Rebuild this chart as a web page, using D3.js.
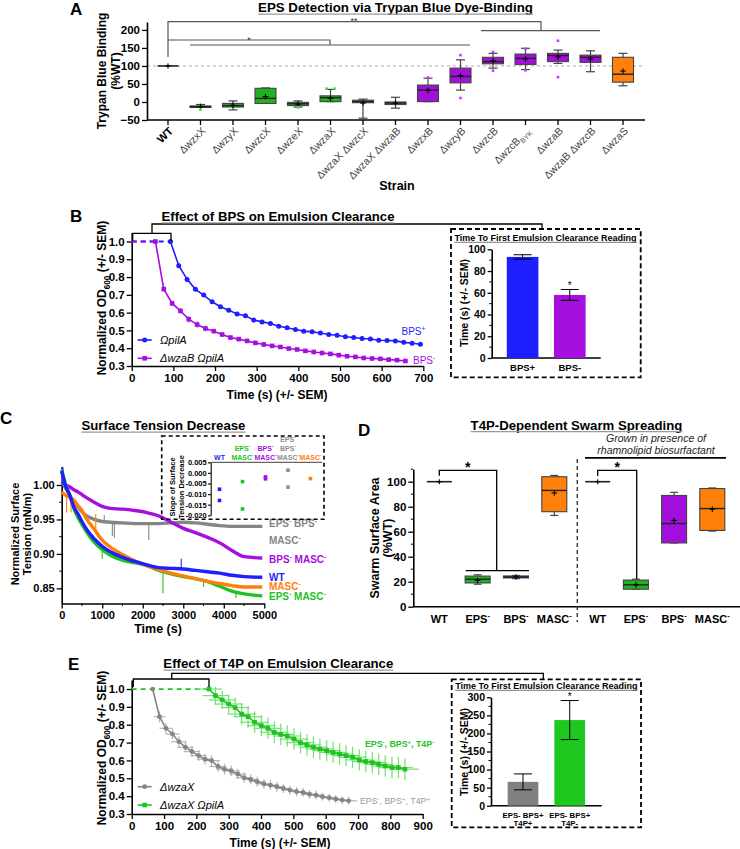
<!DOCTYPE html>
<html><head><meta charset="utf-8">
<script src="https://cdn.jsdelivr.net/npm/d3@7"></script>
<style>
body{margin:0;background:#fff}
svg{display:block;font-family:"Liberation Sans",Arial,Helvetica,sans-serif}
</style></head><body>
<svg id="c" width="740" height="849"></svg>
<script>
// ================= DATA =================
// Panel A – Trypan blue binding (%WT), box stats per strain
const aStrains = ["WT","ΔwzxX","ΔwzyX","ΔwzcX","ΔwzeX","ΔwzaX","ΔwzaX ΔwzcX","ΔwzaX ΔwzaB","ΔwzxB","ΔwzyB","ΔwzcB","ΔwzcB_{BYK}","ΔwzaB","ΔwzaB ΔwzcB","ΔwzaS"];
const aGroup = ["wt","eps","eps","eps","eps","eps","eps","eps","bps","bps","bps","bps","bps","bps","masc"];
const aMin  = [100,-15,-22,-4,-14, 1,-45,-17, 1, 33, 94, 90,107, 84, 45];
const aQ1   = [100,-14,-14,-4,-10, 1, -2, -7, 1, 53,106,104,112,110, 55];
const aMed  = [100,-13,-10,10, -5,12,  1, -3,33, 71,112,121,129,124, 77];
const aQ3   = [100,-11, -4,38, -1,17,  5,  0,47, 94,124,133,135,130,124];
const aMax  = [100, -7,  3,39,  3,35,  8, 13,66,117,135,149,144,142,135];
const aMean = [100,-12.5,-9,15,-6,10,-3,-3,32,73,114,120,125,119,86];
const aDots = [[],[-21],[],[],[-15],[37,37],[],[],[68],[130,11],[139,87],[148,88],[170,69],[],[]];
const aYTicks = [-50,0,50,100,150,200];

// Panel B – emulsion clearance (BPS)
const bTimeBlue = [93,113,133,153,173,193,213,233,253,273,293,313,333,353,373,393,413,433,453,473,493,513,533,553,573,593,613,633,653,673,693];
const bBlue = [1.0,0.864,0.787,0.731,0.699,0.661,0.633,0.614,0.592,0.582,0.558,0.548,0.539,0.524,0.515,0.505,0.496,0.492,0.486,0.477,0.473,0.464,0.460,0.455,0.452,0.445,0.443,0.441,0.433,0.428,0.422];
const bBlueSem = [0,0.012,0.010,0.010,0.010,0.010,0.010,0.010,0.010,0.010,0.012,0.012,0.012,0.012,0.012,0.012,0.012,0.012,0.012,0.012,0.012,0.012,0.012,0.012,0.012,0.012,0.012,0.012,0.012,0.012,0.012];
const bTimePurple = [57,77,97,117,137,157,177,197,217,237,257,277,297,317,337,357,377,397,417,437,457,477,497,517,537,557,577,597,617,637,657];
const bPurple = [1.0,0.732,0.652,0.610,0.563,0.533,0.511,0.496,0.477,0.460,0.451,0.441,0.430,0.421,0.413,0.407,0.398,0.393,0.385,0.379,0.373,0.368,0.361,0.355,0.351,0.345,0.342,0.340,0.336,0.333,0.328];
const bPurpleSem = [0,0.012,0.015,0.015,0.02,0.02,0.015,0.012,0.012,0.012,0.012,0.012,0.012,0.012,0.012,0.010,0.010,0.010,0.010,0.010,0.010,0.010,0.010,0.010,0.010,0.010,0.010,0.010,0.010,0.010,0.010];
const bInsetCats = ["BPS+","BPS-"];
const bInsetVals = [93,58];
const bInsetSem = [2,5];

// Panel C – surface tension
const cTime = [0,100,200,300,400,500,600,800,1000,1200,1500,1800,2100,2400,2700,3000,3300,3600,3900,4200,4500,4950];
const cWT     = [1.020,0.998,0.985,0.968,0.958,0.947,0.937,0.922,0.911,0.903,0.895,0.889,0.884,0.880,0.879,0.878,0.876,0.874,0.872,0.869,0.867,0.866];
const cEM     = [1.022,1.000,0.985,0.966,0.953,0.943,0.933,0.917,0.906,0.898,0.891,0.887,0.883,0.876,0.871,0.867,0.864,0.860,0.853,0.846,0.842,0.839];
const cMASC   = [0.990,0.985,0.982,0.978,0.970,0.963,0.952,0.936,0.920,0.910,0.899,0.890,0.883,0.877,0.872,0.868,0.864,0.860,0.857,0.854,0.852,0.852];
const cEBM    = [1.005,0.995,0.985,0.976,0.968,0.961,0.956,0.950,0.947,0.946,0.945,0.944,0.944,0.944,0.945,0.946,0.945,0.943,0.941,0.940,0.940,0.940];
const cBM     = [1.005,1.000,0.997,0.993,0.990,0.986,0.982,0.975,0.969,0.966,0.965,0.963,0.960,0.955,0.946,0.937,0.931,0.924,0.916,0.905,0.896,0.894];
// spikes: [series, time, from, to]
const cSpikes = [["WT",2950,0.878,0.893],["MASC",840,0.930,0.958],["MASC",230,0.978,0.960],["MASC",120,0.985,0.960],
  ["EBM",1250,0.946,0.926],["EBM",1300,0.946,0.923],["EBM",2150,0.944,0.920],["EBM",1050,0.947,0.956],
  ["EM",2500,0.875,0.843],["EM",1000,0.906,0.893],["EM",4300,0.846,0.836],["EM",3500,0.862,0.852],["WT",30,1.0,1.026],["EM",20,1.0,1.024]];
const cInsetCats = ["WT","EPS^{-}|MASC^{-}","BPS^{-}|MASC^{-}","EPS^{-}|BPS^{-}|MASC^{-}","MASC^{-}"];
const cInsetSlopes = [[-0.0077,-0.0130],[-0.0041,-0.0170],[-0.0019,-0.0028],[0.0013,-0.0067],[-0.0027]];

// Panel D – swarm spreading (%WT)
const dCats = ["WT","EPS^{-}","BPS^{-}","MASC^{-}"];
const dGroup = ["wt","eps","bps","masc"];
const dMinNo = [100,18,22.5,73],  dQ1No = [100,19,23,76],  dMedNo = [100,22,23.8,93],  dQ3No = [100,24.5,24.6,104], dMaxNo = [100,25.5,25,105], dMeanNo = [100,21,23.8,91];
const dMinRh = [100,14,51,60.5],  dQ1Rh = [100,14,51,61],  dMedRh = [100,17.5,66.5,78.5], dQ3Rh = [100,21.3,89,94.5], dMaxRh = [100,22,91.5,95], dMeanRh = [100,17.5,69,78];

// Panel E – emulsion clearance (T4P)
const eTimeGray = [65,86,106,126,146,166,186,207,227,247,267,287,308,328,348,368,388,409,429,449,469,489,510,530,550,570,590,611,631,651,671];
const eGray = [1.0,0.845,0.780,0.748,0.705,0.674,0.650,0.627,0.607,0.599,0.566,0.551,0.541,0.524,0.503,0.494,0.481,0.468,0.462,0.453,0.443,0.434,0.425,0.421,0.410,0.406,0.397,0.391,0.384,0.378,0.374];
const eGraySemY = [0,0.03,0.03,0.03,0.03,0.03,0.03,0.03,0.03,0.03,0.03,0.03,0.03,0.03,0.028,0.028,0.028,0.028,0.028,0.028,0.025,0.025,0.025,0.025,0.025,0.025,0.022,0.022,0.022,0.022,0.022];
const eGraySemX = [0,18,20,22,24,25,25,25,26,26,26,26,26,26,26,26,26,26,26,26,26,26,26,26,26,26,26,26,26,26,26];
const eTimeGreen = [239,259,280,300,320,340,360,380,401,421,441,461,481,502,522,542,562,582,603,623,643,663,683,704,724,744,764,784,805,825,845];
const eGreen = [1.0,0.963,0.939,0.916,0.896,0.860,0.845,0.814,0.795,0.780,0.758,0.746,0.737,0.720,0.700,0.687,0.674,0.664,0.655,0.645,0.636,0.627,0.618,0.603,0.594,0.588,0.578,0.569,0.560,0.560,0.551];
const eGreenSemY = [0,0.05,0.05,0.055,0.055,0.06,0.06,0.06,0.06,0.06,0.06,0.06,0.06,0.06,0.06,0.06,0.06,0.06,0.06,0.06,0.06,0.06,0.06,0.06,0.06,0.06,0.06,0.06,0.06,0.06,0.06];
const eGreenSemX = [40,40,42,44,44,44,44,44,44,44,44,44,44,44,44,44,44,44,44,44,44,44,44,44,44,44,44,44,44,44,44];
const eInsetCats = ["EPS- BPS+|T4P+","EPS- BPS+|T4P-"];
const eInsetVals = [66,237];
const eInsetSem = [22,54];

// ================= DRAWING =================
const F = '"Liberation Sans", Arial, Helvetica, sans-serif';
const COL = {blue:"#1e1eff", purple:"#a50fe0", green:"#1fc21f", orange:"#ff7f0a", gray:"#858585", wt:"#000"};
const BOXCOL = {eps:"#1fb41f", bps:"#a20fdc", masc:"#ff800a", wt:"#000"};
const DOTCOL = {eps:"#3fe03f", bps:"#c040ff", masc:"#ffa040", wt:"#000"};
const svg = d3.select("#c");

function rich(sel, str, size){
  const parts = str.split(/(\^\{[^}]*\}|_\{[^}]*\})/).filter(s=>s.length);
  let shift = 0;
  parts.forEach(p=>{
    let target=0, content=p, fs=null;
    if(p.startsWith("^{")){target=-0.38*size;content=p.slice(2,-1);fs=size*0.68;}
    else if(p.startsWith("_{")){target=0.28*size;content=p.slice(2,-1);fs=size*0.68;}
    const t = sel.append("tspan").text(content);
    if(target!==shift){t.attr("dy",target-shift);shift=target;}
    if(fs) t.attr("font-size",fs);
  });
}
function addText(parent,x,y,str,o={}){
  const size=o.size||12;
  const t=parent.append("text").attr("x",x).attr("y",y)
    .attr("font-size",size).attr("font-weight",o.weight||"bold")
    .attr("text-anchor",o.anchor||"start").attr("fill",o.fill||"#000")
    .attr("font-family",F);
  if(o.italic) t.attr("font-style","italic");
  if(o.rotate!==undefined) t.attr("transform",`rotate(${o.rotate},${x},${y})`);
  if(o.dy) t.attr("dy",o.dy);
  rich(t,str,size);
  return t;
}
function title(x,y,str,size,uc){
  const t=addText(svg,x,y,str,{size:size,anchor:"middle"});
  const w=t.node().getComputedTextLength();
  svg.append("line").attr("x1",x-w/2).attr("x2",x+w/2).attr("y1",y+2.2).attr("y2",y+2.2)
    .attr("stroke",uc||"#9a9a9a").attr("stroke-width",1.3);
}
function styleAxis(g,fs){
  g.attr("font-family",F);
  g.selectAll("path.domain").attr("stroke","#000").attr("stroke-width",1.6);
  g.selectAll(".tick line").attr("stroke","#000").attr("stroke-width",1.3);
  g.selectAll(".tick text").attr("font-family",F).attr("font-weight","bold").attr("font-size",fs).attr("fill","#000");
}
function minorTicks(g,scale,vals,x,len){
  g.selectAll(null).data(vals).join("line").attr("x1",x).attr("x2",x-len)
    .attr("y1",d=>scale(d)).attr("y2",d=>scale(d)).attr("stroke","#000").attr("stroke-width",1);
}
function line(g,x1,y1,x2,y2,c,w,dash){
  const l=g.append("line").attr("x1",x1).attr("y1",y1).attr("x2",x2).attr("y2",y2).attr("stroke",c||"#000").attr("stroke-width",w||1);
  if(dash) l.attr("stroke-dasharray",dash);
  return l;
}
function path(g,d,c,w,dash){
  const p=g.append("path").attr("d",d).attr("fill","none").attr("stroke",c||"#000").attr("stroke-width",w||1.2);
  if(dash) p.attr("stroke-dasharray",dash);
  return p;
}
function plus(g,x,y,s){ line(g,x-s,y,x+s,y,"#000",1.1); line(g,x,y-s,x,y+s,"#000",1.1); }
function boxes(g,xs,ys,mins,q1s,meds,q3s,maxs,means,groups,w,cap,dots){
  xs.forEach((x,i)=>{
    const grp=groups[i];
    if(mins[i]===maxs[i]){
      line(g,x-w/2,ys(meds[i]),x+w/2,ys(meds[i]),"#222",1.6);
      plus(g,x,ys(means[i]),2.5);
      return;
    }
    line(g,x,ys(maxs[i]),x,ys(q3s[i]),"#444",1.2);
    line(g,x,ys(q1s[i]),x,ys(mins[i]),"#444",1.2);
    line(g,x-cap/2,ys(maxs[i]),x+cap/2,ys(maxs[i]),"#444",1.2);
    line(g,x-cap/2,ys(mins[i]),x+cap/2,ys(mins[i]),"#444",1.2);
    g.append("rect").attr("x",x-w/2).attr("y",ys(q3s[i])).attr("width",w)
      .attr("height",Math.max(1.5,ys(q1s[i])-ys(q3s[i]))).attr("fill",BOXCOL[grp]).attr("stroke","#444").attr("stroke-width",1.1);
    line(g,x-w/2,ys(meds[i]),x+w/2,ys(meds[i]),"#222",1.4);
    plus(g,x,ys(means[i]),2.8);
    if(dots){
      const ds=dots[i];
      ds.forEach((v,j)=>{
        const same=ds.filter(u=>u===v).length>1;
        const dx=same?(j%2?4:-4):0;
        g.append("rect").attr("x",x+dx-1.3).attr("y",ys(v)-1.3).attr("width",2.6).attr("height",2.6).attr("fill",DOTCOL[grp]);
      });
    }
  });
}

// ---------- Panel letters ----------
[["A",70,14.5],["B",70,222],["C",0,424],["D",358,436],["E",68,670]].forEach(d=>{
  svg.append("text").attr("x",d[1]).attr("y",d[2]).attr("font-family",F).attr("font-weight","bold").attr("font-size",17).text(d[0]);
});

// =========== PANEL A ===========
(function(){
  const g=svg.append("g");
  const xA=d3.scalePoint().domain(aStrains).range([168,623]);
  const yA=d3.scaleLinear().domain([-50,222]).range([120,22]);
  title(395.5,12,"EPS Detection via Trypan Blue Dye-Binding",13.3);
  line(g,147,yA(100),645,yA(100),"#a0a0a0",0.9,"3,3");
  const ay=g.append("g").attr("transform","translate(147,0)")
    .call(d3.axisLeft(yA).tickValues(aYTicks).tickSize(5).tickSizeOuter(0).tickPadding(2));
  styleAxis(ay,11.5);
  line(g,147,120,645,120,"#000",1.6);
  aStrains.forEach(s=>line(g,xA(s),120,xA(s),125,"#000",1.3));
  aStrains.forEach((s,i)=>{
    const x=xA(s)+3, y=129;
    addText(g,x,y,s,{size:i===0?11:10.5,anchor:"end",rotate:-45,weight:i===0?"bold":"normal",fill:i===0?"#000":"#444",dy:"0.35em"});
  });
  addText(g,397,190,"Strain",{size:12.5,anchor:"middle"});
  addText(g,101.5,71,"Trypan Blue Binding",{size:12,anchor:"middle",rotate:-90,dy:"0.35em"});
  addText(g,115.5,71,"(%WT)",{size:12,anchor:"middle",rotate:-90,dy:"0.35em"});
  const xw=xA("WT");
  path(g,`M${xw},57V21.7H541V30.7M481,30.7H600`,"#555",1.2);
  path(g,`M${xw},40H330V45M190,45H470`,"#555",1.2);
  addText(g,354,24,"**",{size:9,anchor:"middle",weight:"normal",fill:"#333"});
  addText(g,249,43,"*",{size:9,anchor:"middle",weight:"normal",fill:"#333"});
  boxes(g,aStrains.map(s=>xA(s)),yA,aMin,aQ1,aMed,aQ3,aMax,aMean,aGroup,21,9,aDots);
})();

// =========== PANEL B ===========
(function(){
  const g=svg.append("g");
  const xB=d3.scaleLinear().domain([0,700]).range([131.7,423.3]);
  const yB=d3.scaleLinear().domain([0.3,1.05]).range([366,232.6]);
  title(278,221,"Effect of BPS on Emulsion Clearance",13.2,"#777");
  const ay=g.append("g").attr("transform","translate(131.7,0)")
    .call(d3.axisLeft(yB).tickValues(d3.range(0.3,1.01,0.1)).tickFormat(d3.format(".1f")).tickSize(5).tickSizeOuter(0).tickPadding(2));
  styleAxis(ay,11.5);
  const ax=g.append("g").attr("transform","translate(0,366)")
    .call(d3.axisBottom(xB).tickValues(d3.range(0,701,100)).tickSize(5).tickSizeOuter(0).tickPadding(3));
  styleAxis(ax,11.5);
  addText(g,277,399,"Time (s) (+/- SEM)",{size:12,anchor:"middle"});
  addText(g,102,298,"Normalized OD_{600} (+/- SEM)",{size:12,anchor:"middle",rotate:-90,dy:"0.35em"});
  line(g,xB(0),yB(1),xB(bTimeBlue[0]),yB(1),COL.blue,1.8,"5,4");
  line(g,xB(0),yB(1),xB(bTimePurple[0]),yB(1),COL.purple,1.8,"5,4");
  const ln=d3.line().x(d=>xB(d[0])).y(d=>yB(d[1]));
  [[bTimePurple,bPurple,bPurpleSem,COL.purple,"sq"],[bTimeBlue,bBlue,bBlueSem,COL.blue,"ci"]].forEach(([T,V,S,c,m])=>{
    const pts=T.map((t,i)=>[t,V[i]]);
    T.forEach((t,i)=>{
      if(S[i]>0){
        line(g,xB(t),yB(V[i]+S[i]),xB(t),yB(V[i]-S[i]),c,1.1).attr("opacity",0.6);
        line(g,xB(t-5),yB(V[i]),xB(t+5),yB(V[i]),c,1.1).attr("opacity",0.6);
      }
    });
    g.append("path").attr("d",ln(pts)).attr("fill","none").attr("stroke",c).attr("stroke-width",1.6);
    pts.forEach(p=>{
      if(m==="sq") g.append("rect").attr("x",xB(p[0])-2.3).attr("y",yB(p[1])-2.3).attr("width",4.6).attr("height",4.6).attr("fill",c);
      else g.append("circle").attr("cx",xB(p[0])).attr("cy",yB(p[1])).attr("r",2.5).attr("fill",c);
    });
  });
  addText(g,401.5,334.5,"BPS^{+}",{size:10,fill:COL.blue,weight:"normal"});
  addText(g,413,364,"BPS^{-}",{size:10,fill:COL.purple,weight:"normal"});
  line(g,137.7,340,151.7,340,COL.blue,1.6); g.append("circle").attr("cx",144.7).attr("cy",340).attr("r",2.5).attr("fill",COL.blue);
  addText(g,160,344,"ΩpilA",{size:11,italic:true,weight:"normal"});
  line(g,137.7,358.3,151.7,358.3,COL.purple,1.6); g.append("rect").attr("x",142.4).attr("y",356).attr("width",4.6).attr("height",4.6).attr("fill",COL.purple);
  addText(g,160,362.3,"ΔwzaB ΩpilA",{size:11,italic:true,weight:"normal"});
  path(g,"M132.7,241V233.3H171V241M152,233.3V224H542V229","#000",1.3);
  g.append("rect").attr("x",451).attr("y",229).attr("width",189.7).attr("height",148.3).attr("fill","none").attr("stroke","#000").attr("stroke-width",1.8).attr("stroke-dasharray","5,3");
  const tt=addText(g,545.5,240.5,"Time To First Emulsion Clearance Reading",{size:9,anchor:"middle"});
  const tw=tt.node().getComputedTextLength();
  line(g,545.5-tw/2,242.3,545.5+tw/2,242.3,"#777",1);
  const xi=d3.scaleBand().domain(bInsetCats).range([491.7,600.7]).paddingInner(0.33).paddingOuter(0.32);
  const yi=d3.scaleLinear().domain([0,100]).range([358,249.3]);
  const ayi=g.append("g").attr("transform","translate(491.7,0)")
    .call(d3.axisLeft(yi).tickValues(d3.range(0,101,20)).tickSize(4).tickSizeOuter(0).tickPadding(2));
  styleAxis(ayi,10.5);
  minorTicks(g,yi,d3.range(10,100,20),491.7,2.5);
  line(g,491.7,358,600.7,358,"#000",1.6);
  const bc=[COL.blue,COL.purple];
  bInsetCats.forEach((c,i)=>{
    g.append("rect").attr("x",xi(c)).attr("y",yi(bInsetVals[i])).attr("width",xi.bandwidth()).attr("height",358-yi(bInsetVals[i])).attr("fill",bc[i]);
    const cx=xi(c)+xi.bandwidth()/2;
    line(g,cx,yi(bInsetVals[i]+bInsetSem[i]),cx,yi(bInsetVals[i]-bInsetSem[i]),"#000",1);
    line(g,cx-9,yi(bInsetVals[i]+bInsetSem[i]),cx+9,yi(bInsetVals[i]+bInsetSem[i]),"#000",1);
    line(g,cx-9,yi(bInsetVals[i]-bInsetSem[i]),cx+9,yi(bInsetVals[i]-bInsetSem[i]),"#000",1);
    addText(g,cx,370.5,c,{size:9.5,anchor:"middle"});
  });
  addText(g,xi("BPS-")+xi.bandwidth()/2,288.5,"*",{size:10,anchor:"middle",weight:"normal"});
  addText(g,464,303,"Time (s) (+/- SEM)",{size:10.5,anchor:"middle",rotate:-90,dy:"0.35em"});
})();

// =========== PANEL C ===========
(function(){
  const g=svg.append("g");
  const xC=d3.scaleLinear().domain([0,5000]).range([61.7,264.3]);
  const yC=d3.scaleLinear().domain([0.828,1.027]).range([603.5,466.4]);
  title(163.5,430,"Surface Tension Decrease",13.2);
  const ay=g.append("g").attr("transform","translate(61.7,0)")
    .call(d3.axisLeft(yC).tickValues([0.85,0.9,0.95,1.0]).tickFormat(d3.format(".2f")).tickSize(5).tickSizeOuter(0).tickPadding(2));
  styleAxis(ay,11);
  minorTicks(g,yC,[0.875,0.925,0.975],61.7,2.5);
  const ax=g.append("g").attr("transform","translate(0,603.5)")
    .call(d3.axisBottom(xC).tickValues(d3.range(0,5001,1000)).tickFormat(d3.format("d")).tickSize(5).tickSizeOuter(0).tickPadding(3));
  styleAxis(ax,11);
  d3.range(500,5000,1000).forEach(t=>line(g,xC(t),603.5,xC(t),606,"#000",1));
  addText(g,158,633,"Time (s)",{size:12.5,anchor:"middle"});
  addText(g,15.5,534,"Normalized Surface",{size:11,anchor:"middle",rotate:-90,dy:"0.35em"});
  addText(g,27,534,"Tension  (mN/m)",{size:11,anchor:"middle",rotate:-90,dy:"0.35em"});
  const series={EBM:[cEBM,COL.gray],BM:[cBM,COL.purple],EM:[cEM,COL.green],MASC:[cMASC,COL.orange],WT:[cWT,COL.blue]};
  const ln=d3.line().x((d,i)=>xC(cTime[i])).y(d=>yC(d)).curve(d3.curveMonotoneX);
  Object.keys(series).forEach(k=>{
    const [v,c]=series[k];
    g.append("path").attr("d",ln(v)).attr("fill","none").attr("stroke",c).attr("stroke-width",3.4);
    cSpikes.filter(s=>s[0]===k).forEach(s=>line(g,xC(s[1]),yC(s[2]),xC(s[1]),yC(s[3]),c,1.1));
  });
  const lx=269;
  addText(g,lx,527,"EPS^{-} BPS^{-}",{size:10,fill:COL.gray});
  addText(g,lx,543.5,"MASC^{-}",{size:10,fill:COL.gray});
  addText(g,lx,563,"BPS^{-} MASC^{-}",{size:10,fill:COL.purple});
  addText(g,lx,580.8,"WT",{size:10,fill:COL.blue});
  addText(g,lx,590.2,"MASC^{-}",{size:10,fill:COL.orange});
  addText(g,lx,599.6,"EPS^{-} MASC^{-}",{size:10,fill:COL.green});
  g.append("rect").attr("x",161.7).attr("y",436).attr("width",162.3).attr("height",83.3).attr("fill","none").attr("stroke","#000").attr("stroke-width",1.6).attr("stroke-dasharray","4,3");
  const yi=d3.scaleLinear().domain([-0.020,0.005]).range([515.3,462.3]);
  const xs=[219.5,242.5,265.5,288,310.5];
  const cc=[COL.blue,COL.green,COL.purple,"#8f8f8f",COL.orange];
  const ayi=g.append("g").attr("transform","translate(210.7,0)")
    .call(d3.axisLeft(yi).tickValues([-0.02,-0.015,-0.01,-0.005,0,0.005]).tickFormat(d=>d3.format(".3f")(d).replace("−","-")).tickSize(2.5).tickSizeOuter(0).tickPadding(1.5));
  styleAxis(ayi,7.5); ayi.select("path.domain").attr("stroke-width",1.1);
  line(g,210.7,462.3,322,462.3,"#666",1.2);
  cInsetCats.forEach((c,i)=>{
    const lines=c.split("|");
    lines.forEach((l,j)=>addText(g,xs[i],460-(lines.length-1-j)*9,l,{size:7,anchor:"middle",fill:cc[i]}));
    cInsetSlopes[i].forEach(v=>g.append("rect").attr("x",xs[i]-1.8).attr("y",yi(v)-1.8).attr("width",3.6).attr("height",3.6).attr("fill",cc[i]));
  });
  addText(g,172.7,487,"Slope of Surface",{size:7.5,anchor:"middle",rotate:-90,dy:"0.35em"});
  addText(g,181.7,487,"Tension Decrease",{size:7.5,anchor:"middle",rotate:-90,dy:"0.35em"});
})();

// =========== PANEL D ===========
(function(){
  const g=svg.append("g");
  const yD=d3.scaleLinear().domain([0,110]).range([606.7,469.2]);
  const x1=d3.scalePoint().domain(dCats).range([439.3,554.3]);
  const x2=d3.scalePoint().domain(dCats).range([597.7,712.3]);
  title(576.5,429.5,"T4P-Dependent Swarm Spreading",13.2);
  addText(g,656,442,"Grown in presence of",{size:10.5,anchor:"middle",italic:true,weight:"normal",fill:"#222"});
  addText(g,656,454,"rhamnolipid biosurfactant",{size:10.5,anchor:"middle",italic:true,weight:"normal",fill:"#222"});
  line(g,585,457.9,726,457.9,"#000",1.8);
  const ay=g.append("g").attr("transform","translate(413.3,0)")
    .call(d3.axisLeft(yD).tickValues(d3.range(0,101,20)).tickSize(5).tickSizeOuter(0).tickPadding(2));
  styleAxis(ay,11.5);
  minorTicks(g,yD,d3.range(10,111,20),413.3,2.5);
  line(g,413.3,606.7,740,606.7,"#000",1.6);
  line(g,577.3,459,577.3,622,"#333",1.4,"4,3");
  addText(g,375,538,"Swarm Surface Area",{size:12.5,anchor:"middle",rotate:-90,dy:"0.35em"});
  addText(g,387.5,538,"(%WT)",{size:12.5,anchor:"middle",rotate:-90,dy:"0.35em"});
  [x1,x2].forEach(xs=>dCats.forEach(c=>addText(g,xs(c),622.5,c,{size:11,anchor:"middle"})));
  boxes(g,dCats.map(c=>x1(c)),yD,dMinNo,dQ1No,dMedNo,dQ3No,dMaxNo,dMeanNo,dGroup,25,8,null);
  boxes(g,dCats.map(c=>x2(c)),yD,dMinRh,dQ1Rh,dMedRh,dQ3Rh,dMaxRh,dMeanRh,dGroup,25,8,null);
  path(g,`M${x1("WT")},475.7V470.3H496.7V570.7M465.7,570.7H529`,"#000",1.3);
  path(g,`M${x2("WT")},476V470.3H636.7V579`,"#000",1.3);
  addText(g,467.7,472,"*",{size:14,anchor:"middle"});
  addText(g,617.3,472,"*",{size:14,anchor:"middle"});
})();

// =========== PANEL E ===========
(function(){
  const g=svg.append("g");
  const xE=d3.scaleLinear().domain([0,900]).range([131.7,422.7]);
  const yE=d3.scaleLinear().domain([0.3,1.05]).range([814,680.1]);
  title(278.3,668,"Effect of T4P on Emulsion Clearance",13.2);
  const ay=g.append("g").attr("transform","translate(131.7,0)")
    .call(d3.axisLeft(yE).tickValues(d3.range(0.3,1.01,0.1)).tickFormat(d3.format(".1f")).tickSize(5).tickSizeOuter(0).tickPadding(2));
  styleAxis(ay,11.5);
  const ax=g.append("g").attr("transform","translate(0,814)")
    .call(d3.axisBottom(xE).tickValues(d3.range(0,901,100)).tickSize(5).tickSizeOuter(0).tickPadding(3));
  styleAxis(ax,11.5);
  addText(g,280,846.5,"Time (s) (+/- SEM)",{size:12,anchor:"middle"});
  addText(g,102,748,"Normalized OD_{600} (+/- SEM)",{size:12,anchor:"middle",rotate:-90,dy:"0.35em"});
  line(g,xE(0),yE(1),xE(eTimeGreen[0]),yE(1),COL.green,1.8,"5,4");
  const ln=d3.line().x(d=>xE(d[0])).y(d=>yE(d[1]));
  [[eTimeGray,eGray,eGraySemY,eGraySemX,COL.gray,"ci","#b5b5b5"],[eTimeGreen,eGreen,eGreenSemY,eGreenSemX,COL.green,"sq","#6fe36f"]].forEach(([T,V,SY,SX,c,m,ec])=>{
    T.forEach((t,i)=>{
      if(SY[i]>0) line(g,xE(t),yE(V[i]+SY[i]),xE(t),yE(V[i]-SY[i]),ec,1.2);
      if(SX[i]>0) line(g,xE(t-SX[i]),yE(V[i]),xE(t+SX[i]),yE(V[i]),ec,1.2);
    });
    const pts=T.map((t,i)=>[t,V[i]]);
    g.append("path").attr("d",ln(pts)).attr("fill","none").attr("stroke",c).attr("stroke-width",1.6);
    pts.forEach(p=>{
      if(m==="sq") g.append("rect").attr("x",xE(p[0])-2.3).attr("y",yE(p[1])-2.3).attr("width",4.6).attr("height",4.6).attr("fill",c);
      else g.append("circle").attr("cx",xE(p[0])).attr("cy",yE(p[1])).attr("r",2.4).attr("fill",c);
    });
  });
  addText(g,365,747,"EPS^{-}, BPS^{+}, T4P^{-}",{size:8.8,fill:COL.green});
  addText(g,360,804,"EPS^{-}, BPS^{+}, T4P^{+}",{size:8.8,fill:"#9a9a9a",weight:"normal"});
  line(g,137.7,786.7,151.7,786.7,COL.gray,1.6); g.append("circle").attr("cx",144.7).attr("cy",786.7).attr("r",2.4).attr("fill",COL.gray);
  addText(g,160,790.7,"ΔwzaX",{size:11,italic:true,weight:"normal"});
  line(g,137.7,805,151.7,805,COL.green,1.6); g.append("rect").attr("x",142.4).attr("y",802.7).attr("width",4.6).attr("height",4.6).attr("fill",COL.green);
  addText(g,160,809,"ΔwzaX ΩpilA",{size:11,italic:true,weight:"normal"});
  path(g,"M133.3,687V679H209V687M171.7,679V673.3H543.3V679.3","#000",1.3);
  g.append("rect").attr("x",451.7).attr("y",679.3).attr("width",189.3).attr("height",148).attr("fill","none").attr("stroke","#000").attr("stroke-width",1.8).attr("stroke-dasharray","5,3");
  const tt=addText(g,546.3,688.5,"Time To First Emulsion Clearance Reading",{size:9,anchor:"middle"});
  const tw=tt.node().getComputedTextLength();
  line(g,546.3-tw/2,690.3,546.3+tw/2,690.3,"#777",1);
  const xi=d3.scaleBand().domain(eInsetCats).range([491,601.7]).paddingInner(0.343).paddingOuter(0.356);
  const yi=d3.scaleLinear().domain([0,300]).range([805.7,697.3]);
  const ayi=g.append("g").attr("transform","translate(491,0)")
    .call(d3.axisLeft(yi).tickValues(d3.range(0,301,50)).tickSize(4).tickSizeOuter(0).tickPadding(2));
  styleAxis(ayi,10.5);
  minorTicks(g,yi,d3.range(25,300,50),491,2.5);
  line(g,491,805.7,601.7,805.7,"#000",1.6);
  const bc=["#808080","#1ec81e"];
  eInsetCats.forEach((c,i)=>{
    g.append("rect").attr("x",xi(c)).attr("y",yi(eInsetVals[i])).attr("width",xi.bandwidth()).attr("height",805.7-yi(eInsetVals[i])).attr("fill",bc[i]);
    const cx=xi(c)+xi.bandwidth()/2;
    line(g,cx,yi(eInsetVals[i]+eInsetSem[i]),cx,yi(eInsetVals[i]-eInsetSem[i]),"#000",1);
    line(g,cx-9,yi(eInsetVals[i]+eInsetSem[i]),cx+9,yi(eInsetVals[i]+eInsetSem[i]),"#000",1);
    line(g,cx-9,yi(eInsetVals[i]-eInsetSem[i]),cx+9,yi(eInsetVals[i]-eInsetSem[i]),"#000",1);
    const ls=c.split("|");
    addText(g,cx,817.5,ls[0],{size:7.8,anchor:"middle"});
    addText(g,cx,825.5,ls[1],{size:7.8,anchor:"middle"});
  });
  addText(g,xi(eInsetCats[1])+xi.bandwidth()/2,699.5,"*",{size:10,anchor:"middle",weight:"normal"});
  addText(g,464.3,752,"Time (s) (+/- SEM)",{size:10.5,anchor:"middle",rotate:-90,dy:"0.35em"});
})();
</script>
</body></html>
